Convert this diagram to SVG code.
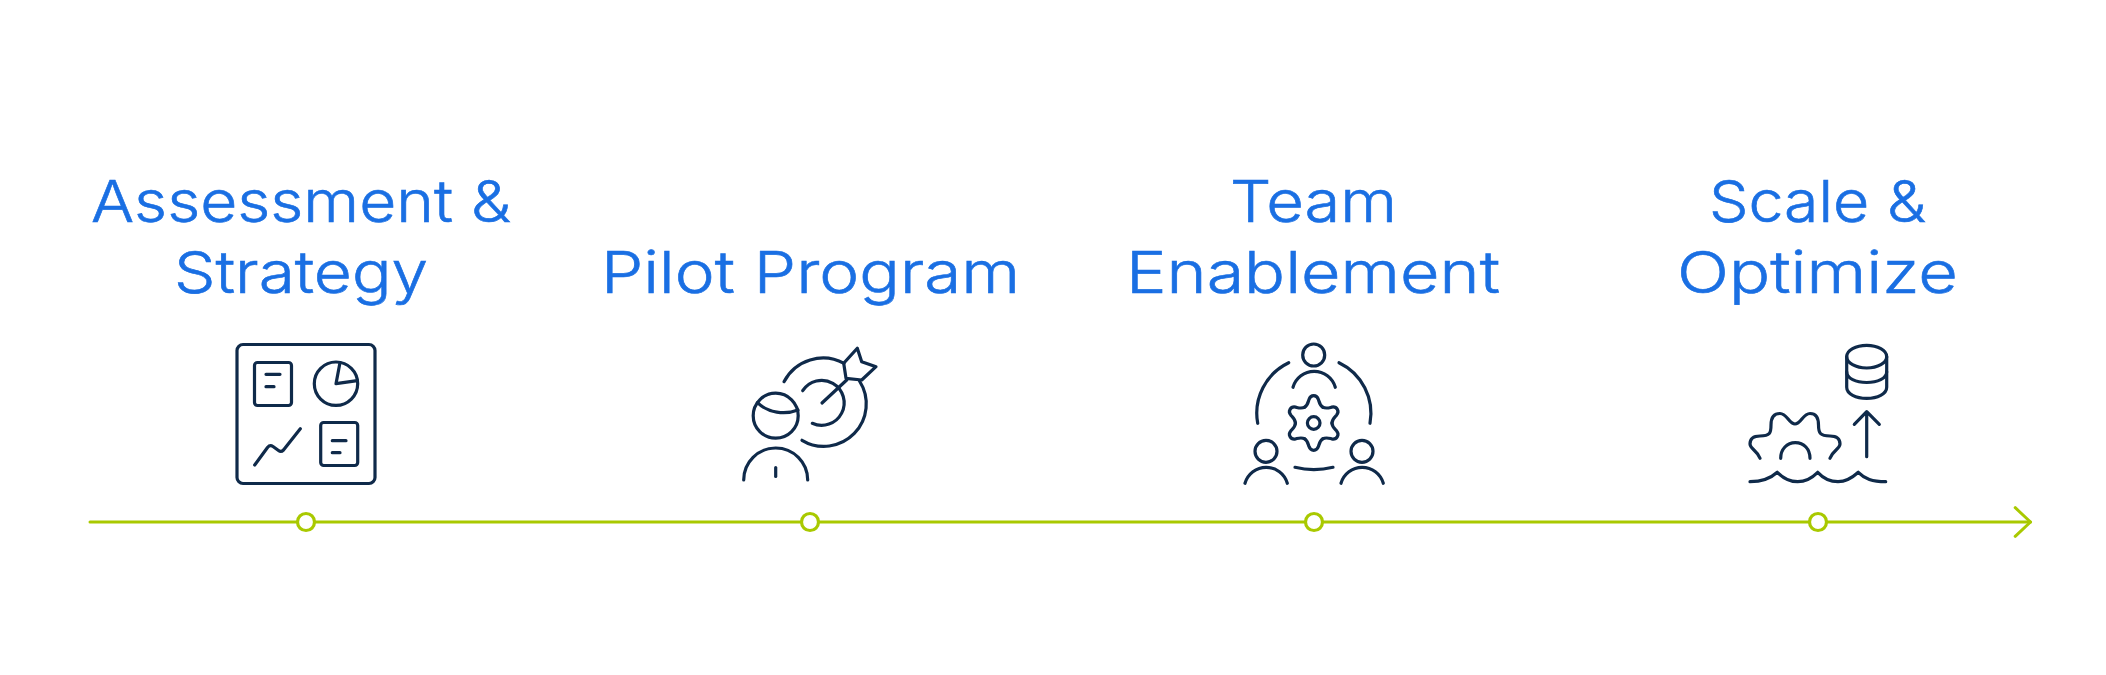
<svg xmlns="http://www.w3.org/2000/svg" width="2106" height="675" viewBox="0 0 2106 675">
<style>
.t{font-family:"Inter","Open Sans","Liberation Sans",sans-serif;font-weight:300;font-size:58px;fill:#1a6fe3;stroke:#1a6fe3;stroke-width:.6}
.i{fill:none;stroke:#0f2a4a;stroke-width:3.2;stroke-linecap:round;stroke-linejoin:round}
.dot{fill:#fff;stroke:#a9c900;stroke-width:3.2}
.tl{fill:none;stroke:#a9c900;stroke-width:3;stroke-linecap:round;stroke-linejoin:round}
</style>
<defs>
<marker id="head" markerUnits="userSpaceOnUse" markerWidth="40" markerHeight="40" viewBox="-20 -20 40 40" refX="0" refY="0" orient="auto"><path class="tl" d="M-15.3,-14.3 L0,0 L-15.3,14.3"/></marker>
<path id="lobe" d="M-9.3,-15.7 C-6,-17.6 -5.6,-20.5 -4.7,-23.6 C-3.8,-26.2 -1.8,-27.3 0,-27.3 C1.8,-27.3 3.8,-26.2 4.7,-23.6 C5.6,-20.5 6,-17.6 9.3,-15.7"/>
</defs>
<rect width="2106" height="675" fill="#fff"/>
<g id="connectors">
<line class="tl" x1="90" y1="522" x2="2030.5" y2="522" marker-end="url(#head)"/>
</g>
<g id="node-assessment">
<text class="t" x="91" y="222" textLength="420" lengthAdjust="spacingAndGlyphs">Assessment &amp;</text>
<text class="t" x="174" y="293" textLength="254" lengthAdjust="spacingAndGlyphs">Strategy</text>
<g class="i">
<rect x="237" y="344.5" width="138" height="139" rx="6"/>
<rect x="254.5" y="362.5" width="37" height="43" rx="3"/>
<path d="M266,374.3H280M266,386.7H274"/>
<circle cx="336" cy="383.7" r="21.7"/>
<path d="M340,362.5L336,383.7L357.3,380.7"/>
<path d="M254.7,465L267.5,447.5Q270,444.5 273,446.5L278.5,450.5Q281,452.5 283.5,450L300.3,428.7"/>
<rect x="320.7" y="422.5" width="37" height="43" rx="3"/>
<path d="M332.3,440.7H346M332.3,452.7H340"/>
</g>
<circle class="dot" cx="306" cy="522" r="8.5"/>
</g>
<g id="node-pilot">
<text class="t" x="601" y="293" textLength="419" lengthAdjust="spacingAndGlyphs">Pilot Program</text>
<g class="i">
<circle cx="775.7" cy="415.7" r="22.5"/>
<path d="M757.5,402.7C768,413 785,415 798,410"/>
<path d="M743.7,480A32,32 0 0 1 807.7,480"/>
<path d="M775.7,467.5V476.5"/>
<path d="M784,381.7A44,44 0 0 1 844,363.3"/>
<path d="M859.5,381A42.4,42.4 0 0 1 802,440.3"/>
<path d="M802.7,390.7A22.5,22.5 0 1 1 812.3,423.3"/>
<path d="M822,403L846.7,380"/>
<path d="M843.7,363.3L857.3,348.3L861.7,361.7L876,366.7L861.7,380L846,378.3Z"/>
</g>
<circle class="dot" cx="810" cy="522" r="8.5"/>
</g>
<g id="node-team">
<text class="t" x="1230" y="222" textLength="167" lengthAdjust="spacingAndGlyphs">Team</text>
<text class="t" x="1126" y="293" textLength="374" lengthAdjust="spacingAndGlyphs">Enablement</text>
<g class="i">
<circle cx="1313.7" cy="355" r="11"/>
<path d="M1293,387.3A22,22 0 0 1 1335.3,387.3"/>
<circle cx="1266" cy="451.3" r="11"/>
<path d="M1245,483.3A22,22 0 0 1 1287.3,483.3"/>
<circle cx="1362" cy="451.3" r="11"/>
<path d="M1341,483.3A22,22 0 0 1 1383.3,483.3"/>
<path d="M1288.7,362.7A56,56 0 0 0 1257.7,423.3"/>
<path d="M1339,362.7A56,56 0 0 1 1370,423.3"/>
<path d="M1295,467.3Q1313.7,472 1333,467.3"/>
<circle cx="1313.7" cy="423" r="6.3"/>
<g transform="translate(1313.7 423)">
<use href="#lobe"/>
<use href="#lobe" transform="rotate(60)"/>
<use href="#lobe" transform="rotate(120)"/>
<use href="#lobe" transform="rotate(180)"/>
<use href="#lobe" transform="rotate(240)"/>
<use href="#lobe" transform="rotate(300)"/>
</g>
</g>
<circle class="dot" cx="1314" cy="522" r="8.5"/>
</g>
<g id="node-scale">
<text class="t" x="1709" y="222" textLength="217" lengthAdjust="spacingAndGlyphs">Scale &amp;</text>
<text class="t" x="1677" y="293" textLength="281" lengthAdjust="spacingAndGlyphs">Optimize</text>
<g class="i">
<ellipse cx="1866.7" cy="356.7" rx="20" ry="11.3"/>
<path d="M1846.7,356.7V387.3C1846.7,394 1856,398.3 1866.7,398.3C1877.4,398.3 1886.7,394 1886.7,387.3V356.7"/>
<path d="M1846.7,371.7C1846.7,378.5 1856,382.5 1866.7,382.5C1877.4,382.5 1886.7,378.5 1886.7,371.7"/>
<path d="M1866.7,456.7V412M1854.3,424.3L1866.7,411.7L1879.3,424.3"/>
<path d="M1760,458.3C1757,450 1750,449 1750,444C1750,438 1754,436 1760,436C1770,436 1771,433 1771,425C1771,418 1774,413.5 1780,413.5C1787,413.5 1789,424 1795,424C1801,424 1803,413.5 1810,413.5C1816,413.5 1818.5,418 1818.5,425C1818.5,433 1820,436 1830,436C1836,436 1840,438 1840,444C1840,449 1833,450 1830,458.3"/>
<path d="M1780.7,458.3C1780.7,449 1787,442.7 1795.3,442.7C1804,442.7 1810,449 1810,458.3"/>
<path d="M1750,481.7C1762,481.7 1770,479 1777.3,472.3C1784,479 1792,481.7 1797.7,481.7C1804,481.7 1811,479 1817.7,472.3C1824,479 1832,481.7 1838,481.7C1844,481.7 1851,479 1858.3,472.3C1865,479 1872,481.7 1885.7,481.7"/>
</g>
<circle class="dot" cx="1818" cy="522" r="8.5"/>
</g>
</svg>
